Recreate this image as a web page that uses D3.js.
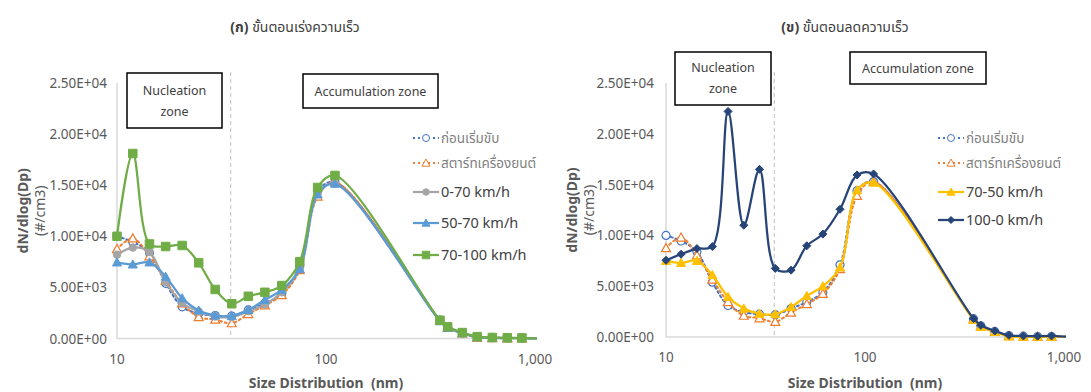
<!DOCTYPE html>
<html><head><meta charset="utf-8">
<script src="https://cdn.jsdelivr.net/npm/d3@7/dist/d3.min.js"></script>
<style>
body{margin:0;background:#fff;}
svg text{font-family:"Noto Sans","Noto Sans Thai","Open Sans",sans-serif;}
</style></head>
<body><svg id="c" width="1091" height="392"></svg>
<script>
// ---- data ----
const sizes = [10, 11.9, 14.3, 17.1, 20.5, 24.6, 29.5, 35.4, 42.5, 51, 61.4, 74.9, 91.2, 110.4, 351, 382, 449, 529, 625, 737, 866, 1100];
const beforeDriving = [10000, 9450, 8400, 5400, 3100, 2450, 2250, 2200, 2800, 3450, 4400, 7100, 14400, 15300, 1800, 1100, 550, 150, 80, 50, 40, 0];
const engineStart   = [8750, 9800, 8050, 5650, 3450, 2100, 1850, 1500, 2400, 3250, 4250, 6700, 13900, 15300, 1750, 1050, 500, 100, 50, 20, 20, 0];
const speed0to70    = [8200, 8900, 8450, 5500, 3450, 2650, 2150, 2100, 2670, 3320, 4520, 6800, 14200, 15150, 1750, 1100, 550, 150, 80, 50, 40, 0];
const speed50to70   = [7450, 7250, 7450, 6050, 3950, 2750, 2250, 2200, 2800, 3780, 4760, 6800, 14100, 15150, 1700, 1050, 520, 130, 70, 40, 30, 0];
const speed70to100  = [10000, 18100, 9250, 9000, 9100, 7400, 4800, 3400, 4130, 4520, 5180, 7520, 14780, 15950, 1780, 1150, 580, 180, 100, 70, 60, 0];
const speed70to50   = [7500, 7300, 7500, 6100, 3950, 2800, 2300, 2250, 2950, 4050, 5000, 6850, 14450, 15200, 1700, 1000, 500, 60, 30, 20, 20, 0];
const speed100to0   = [7550, 8150, 8700, 8900, 22200, 11000, 16500, 6750, 6580, 8980, 10130, 12570, 15950, 16050, 1810, 1150, 590, 170, 100, 80, 100, 0];
const yTicks = [0, 5000, 10000, 15000, 20000, 25000];
const xTicks = [10, 100, 1000];
const seriesNames = ["ก่อนเริ่มขับ", "สตาร์ทเครื่องยนต์", "0-70 km/h", "50-70 km/h", "70-100 km/h", "70-50 km/h", "100-0 km/h"];
const zoneLine = 35;

const styles = {
  "ก่อนเริ่มขับ": {color:"#4472C4", dash:"2,3", marker:"circle", fill:"#fff", size:8},
  "สตาร์ทเครื่องยนต์": {color:"#ED7D31", dash:"2,3", marker:"triangle", fill:"#fff", size:9},
  "0-70 km/h": {color:"#A5A5A5", dash:null, marker:"circle", fill:"#A5A5A5", size:7.5},
  "50-70 km/h": {color:"#5B9BD5", dash:null, marker:"triangle", fill:"#5B9BD5", size:9},
  "70-100 km/h": {color:"#70AD47", dash:null, marker:"square", fill:"#70AD47", size:8.5},
  "70-50 km/h": {color:"#FFC000", dash:null, marker:"triangle", fill:"#FFC000", size:9},
  "100-0 km/h": {color:"#264478", dash:null, marker:"diamond", fill:"#264478", size:8}
};

const charts = [
  {title:["(ก)", " ขั้นตอนเร่งความเร็ว"], titleX:295, x0:117, x1:535, y0:338.5, y1:83, labelX:107, axisTitleX:18,
   series:[[seriesNames[0], beforeDriving],[seriesNames[1], engineStart],[seriesNames[2], speed0to70],[seriesNames[3], speed50to70],[seriesNames[4], speed70to100]],
   nuc:{x:127,y:73,w:95,h:55, t1:91, t2:112}, acc:{x:303,y:74,w:135,h:34, t:92},
   legend:{x:413, rows:[138,163,192,223,255]}},
  {title:["(ข)", " ขั้นตอนลดความเร็ว"], titleX:845, x0:666, x1:1064, y0:337, y1:83, labelX:654, axisTitleX:567,
   series:[[seriesNames[0], beforeDriving],[seriesNames[1], engineStart],[seriesNames[5], speed70to50],[seriesNames[6], speed100to0]],
   nuc:{x:675,y:52,w:96,h:53, t1:68, t2:89}, acc:{x:850,y:52,w:136,h:32, t:69},
   legend:{x:938, rows:[138,163,192,220]}}
];

const svg = d3.select("#c");

function fmtE(v){
  if (v === 0) return "0.00E+00";
  const s = v.toExponential(2).toUpperCase();
  const [m, e] = s.split("E");
  const sign = e[0];
  const digits = e.slice(1).padStart(2,"0");
  return m + "E" + sign + digits;
}

function markerPath(type, size){
  const h = size/2;
  if (type==="circle") return d3.symbol(d3.symbolCircle, Math.PI*h*h)();
  if (type==="square") return `M${-h},${-h}H${h}V${h}H${-h}Z`;
  if (type==="triangle") return `M0,${-h}L${h},${h*0.8}L${-h},${h*0.8}Z`;
  if (type==="diamond") return `M0,${-h}L${h},0L0,${h}L${-h},0Z`;
}

charts.forEach((c, ci) => {
  const g = svg.append("g");
  const x = d3.scaleLog().domain([10,1000]).range([c.x0, c.x1]);
  const y = d3.scaleLinear().domain([0,25000]).range([c.y0, c.y1]);

  // title
  const t = g.append("text").attr("x", c.titleX).attr("y", 32).attr("text-anchor","middle")
    .attr("font-size", 14).attr("fill","#404040");
  t.append("tspan").attr("font-weight","bold").text(c.title[0]);
  t.append("tspan").text(c.title[1]);

  // axes lines
  g.append("line").attr("x1", c.x0).attr("x2", c.x0).attr("y1", c.y1).attr("y2", c.y0).attr("stroke","#D9D9D9").attr("stroke-width",1.5);
  g.append("line").attr("x1", c.x0).attr("x2", c.x1+2).attr("y1", c.y0).attr("y2", c.y0).attr("stroke","#D9D9D9").attr("stroke-width",1.5);

  // y tick labels
  g.selectAll(".yt").data(yTicks).join("text")
    .attr("x", c.labelX).attr("y", d => y(d)+5).attr("text-anchor","end")
    .attr("font-size", 13.5).attr("fill","#595959").text(fmtE);
  // x tick labels
  g.selectAll(".xt").data(xTicks).join("text")
    .attr("x", d => x(d)).attr("y", c.y0+25).attr("text-anchor","middle")
    .attr("font-size", 13.5).attr("fill","#595959").text(d3.format(","));

  // axis titles
  g.append("text").attr("x", (c.x0+c.x1)/2).attr("y", 388).attr("text-anchor","middle")
    .attr("font-size", 14).attr("font-weight","bold").attr("fill","#595959").text("Size Distribution\u00A0\u00A0(nm)");
  const yt = g.append("text").attr("transform", `translate(${c.axisTitleX+10},${(c.y0+c.y1)/2}) rotate(-90)`)
    .attr("text-anchor","middle").attr("fill","#595959").attr("font-size",14);
  yt.append("tspan").attr("x",0).attr("dy",0).attr("font-weight","bold").text("dN/dlog(Dp)");
  yt.append("tspan").attr("x",0).attr("dy",17).text("(#/cm3)");

  // zone dashed line
  g.append("line").attr("x1", x(zoneLine)).attr("x2", x(zoneLine)).attr("y1", 72).attr("y2", c.y0)
    .attr("stroke","#BFBFBF").attr("stroke-dasharray","4,3").attr("stroke-width",1);

  // boxes
  g.append("rect").attr("x", c.nuc.x).attr("y", c.nuc.y).attr("width", c.nuc.w).attr("height", c.nuc.h)
    .attr("fill","#fff").attr("stroke","#000").attr("stroke-width",1.5);
  g.append("text").attr("x", c.nuc.x+c.nuc.w/2).attr("y", c.nuc.t1+4).attr("text-anchor","middle").attr("font-size",12.5).attr("fill","#404040").text("Nucleation");
  g.append("text").attr("x", c.nuc.x+c.nuc.w/2).attr("y", c.nuc.t2+4).attr("text-anchor","middle").attr("font-size",12.5).attr("fill","#404040").text("zone");
  g.append("rect").attr("x", c.acc.x).attr("y", c.acc.y).attr("width", c.acc.w).attr("height", c.acc.h)
    .attr("fill","#fff").attr("stroke","#000").attr("stroke-width",1.5);
  g.append("text").attr("x", c.acc.x+c.acc.w/2).attr("y", c.acc.t+4).attr("text-anchor","middle").attr("font-size",12.5).attr("fill","#404040").text("Accumulation zone");

  // clip
  const clipId = "clip"+ci;
  svg.append("clipPath").attr("id", clipId).append("rect")
    .attr("x", c.x0-10).attr("y", 0).attr("width", c.x1-c.x0+12).attr("height", c.y0+10);

  const line = d3.line().x((d,i)=>x(sizes[i])).y(d=>y(d)).curve(d3.curveCatmullRom.alpha(0.5));
  const plot = g.append("g").attr("clip-path", `url(#${clipId})`);
  c.series.forEach(([name, vals]) => {
    const st = styles[name];
    plot.append("path").datum(vals).attr("d", line).attr("fill","none")
      .attr("stroke", st.color).attr("stroke-width", st.dash ? 2 : 2.25)
      .attr("stroke-dasharray", st.dash).attr("stroke-linecap", st.dash ? "round":"butt");
    plot.selectAll(null).data(vals).join("path")
      .attr("transform", (d,i)=>`translate(${x(sizes[i])},${y(d)})`)
      .attr("d", markerPath(st.marker, st.size))
      .attr("fill", st.fill).attr("stroke", st.color).attr("stroke-width", st.dash ? 1.2 : 1);
  });

  // legend
  c.series.forEach(([name], i) => {
    const st = styles[name];
    const ly = c.legend.rows[i];
    g.append("line").attr("x1", c.legend.x).attr("x2", c.legend.x+26).attr("y1", ly).attr("y2", ly)
      .attr("stroke", st.color).attr("stroke-width", st.dash?2:2.25).attr("stroke-dasharray", st.dash);
    g.append("path").attr("transform", `translate(${c.legend.x+13},${ly})`).attr("d", markerPath(st.marker, st.size-1))
      .attr("fill", st.fill).attr("stroke", st.color).attr("stroke-width",1);
    const isThai = /[\u0E00-\u0E7F]/.test(name);
    g.append("text").attr("x", c.legend.x+28).attr("y", ly+5)
      .attr("font-size", isThai?13.5:14.5).attr("fill", isThai?"#7F7F7F":"#404040").text(name);
  });
});
</script></body></html>
